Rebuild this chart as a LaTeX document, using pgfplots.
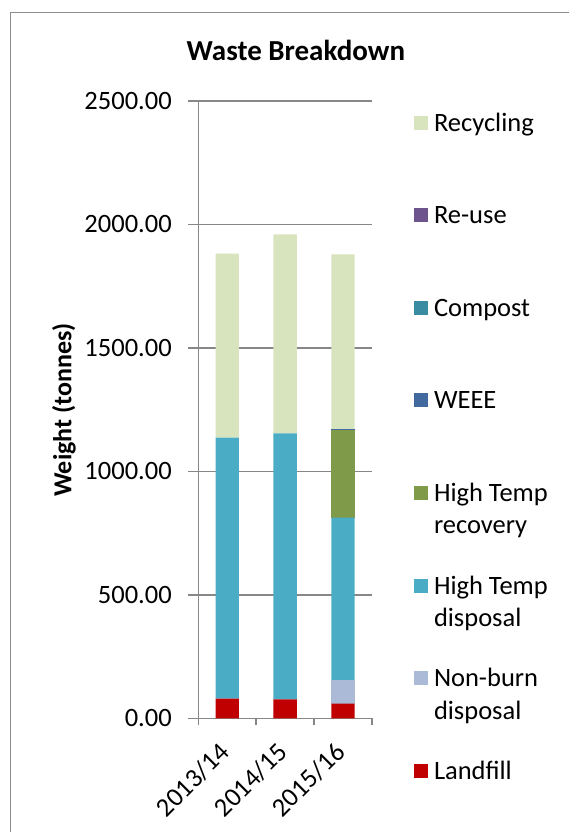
\documentclass[border=0pt]{standalone}
\usepackage{fontspec}
\setmainfont{Carlito}
\usepackage{pgfplots}
\pgfplotsset{compat=1.18}
\definecolor{cRecycling}{HTML}{D7E4BD}
\definecolor{cReuse}{HTML}{6E548D}
\definecolor{cCompost}{HTML}{3A8CA3}
\definecolor{cWEEE}{HTML}{426A9E}
\definecolor{cHTrec}{HTML}{7F9A48}
\definecolor{cHTdis}{HTML}{4BACC6}
\definecolor{cNonburn}{HTML}{AABAD7}
\definecolor{cLandfill}{HTML}{C00000}
\definecolor{axgray}{HTML}{878787}
\definecolor{framegray}{HTML}{8C8C8C}
\begin{document}
\begin{tikzpicture}
\path[use as bounding box] (-198.3pt,-113.7pt) rectangle ++(568pt,832pt);
\draw[color=framegray, line width=1pt] (-187.8pt,-130pt) -- (-187.8pt,705.8pt) -- (390pt,705.8pt);
\begin{axis}[
  at={(0pt,0pt)}, anchor=south west,
  scale only axis, width=173.7pt, height=617.3pt,
  ybar stacked, bar width=23.3pt,
  legend image code/.code={\fill[#1] (0pt,1.5pt) rectangle (14pt,15.5pt);},
  xmin=-0.5, xmax=2.5, ymin=0, ymax=2500,
  axis lines=left,
  every outer x axis line/.append style={-},
  every outer y axis line/.append style={-},
  axis line style={draw=axgray, line width=1.5pt},
  ymajorgrids, major grid style={draw=axgray, line width=1.5pt},
  ytick={0,500,1000,1500,2000,2500},
  xtick={0,1,2}, xticklabels={2013/14,2014/15,2015/16},
  minor xtick={-0.5,0.5,1.5,2.5},
  tick align=outside,
  major tick length=10pt, minor tick length=7pt,
  major x tick style={draw=none},
  minor x tick style={draw=axgray, line width=1.5pt},
  major y tick style={draw=axgray, line width=1.5pt},
  tick label style={font=\fontsize{26.5}{30}\selectfont},
  /pgf/number format/assume math mode=true,
  yticklabel style={/pgf/number format/.cd, fixed, fixed zerofill, precision=2, 1000 sep={}},
  yticklabel shift=13pt,
  xticklabel style={rotate=45, anchor=east},
  xticklabel shift=17pt,
  title={Waste Breakdown},
  title style={at={(axis description cs:0.562,1.0556)}, anchor=base, font=\bfseries\fontsize{29}{34}\selectfont},
  ylabel={Weight (tonnes)},
  ylabel style={at={(axis description cs:-0.773,0.4994)}, anchor=center, font=\bfseries\fontsize{26}{30}\selectfont},
  reverse legend,
  legend style={at={(axis description cs:1.2418,0.9838)}, anchor=north west, draw=none, fill=none,
    inner sep=0pt, outer sep=0pt, row sep=27.6pt, column sep=6pt,
    font=\fontsize{26.5}{32.5}\selectfont,
    nodes={inner sep=0pt, text height=20pt, text depth=45pt, anchor=base west}},
]
\addplot[fill=cLandfill, draw=none] coordinates {(0,80) (1,77) (2,59)};
\addlegendentry{Landfill}
\addplot[fill=cNonburn, draw=none] coordinates {(0,0) (1,0) (2,95)};
\addlegendentry{\parbox[t]{5cm}{Non-burn\\disposal}}
\addplot[fill=cHTdis, draw=none] coordinates {(0,1057) (1,1077) (2,659)};
\addlegendentry{\parbox[t]{5cm}{High Temp\\disposal}}
\addplot[fill=cHTrec, draw=none] coordinates {(0,0) (1,0) (2,355)};
\addlegendentry{\parbox[t]{5cm}{High Temp\\recovery}}
\addplot[fill=cWEEE, draw=none] coordinates {(0,0) (1,0) (2,4)};
\addlegendentry{WEEE}
\addplot[fill=cCompost, draw=none] coordinates {(0,0) (1,0) (2,0)};
\addlegendentry{Compost}
\addplot[fill=cReuse, draw=none] coordinates {(0,0) (1,0) (2,0)};
\addlegendentry{Re-use}
\addplot[fill=cRecycling, draw=none] coordinates {(0,745) (1,806) (2,707)};
\addlegendentry{Recycling}
\end{axis}
\end{tikzpicture}
\end{document}
